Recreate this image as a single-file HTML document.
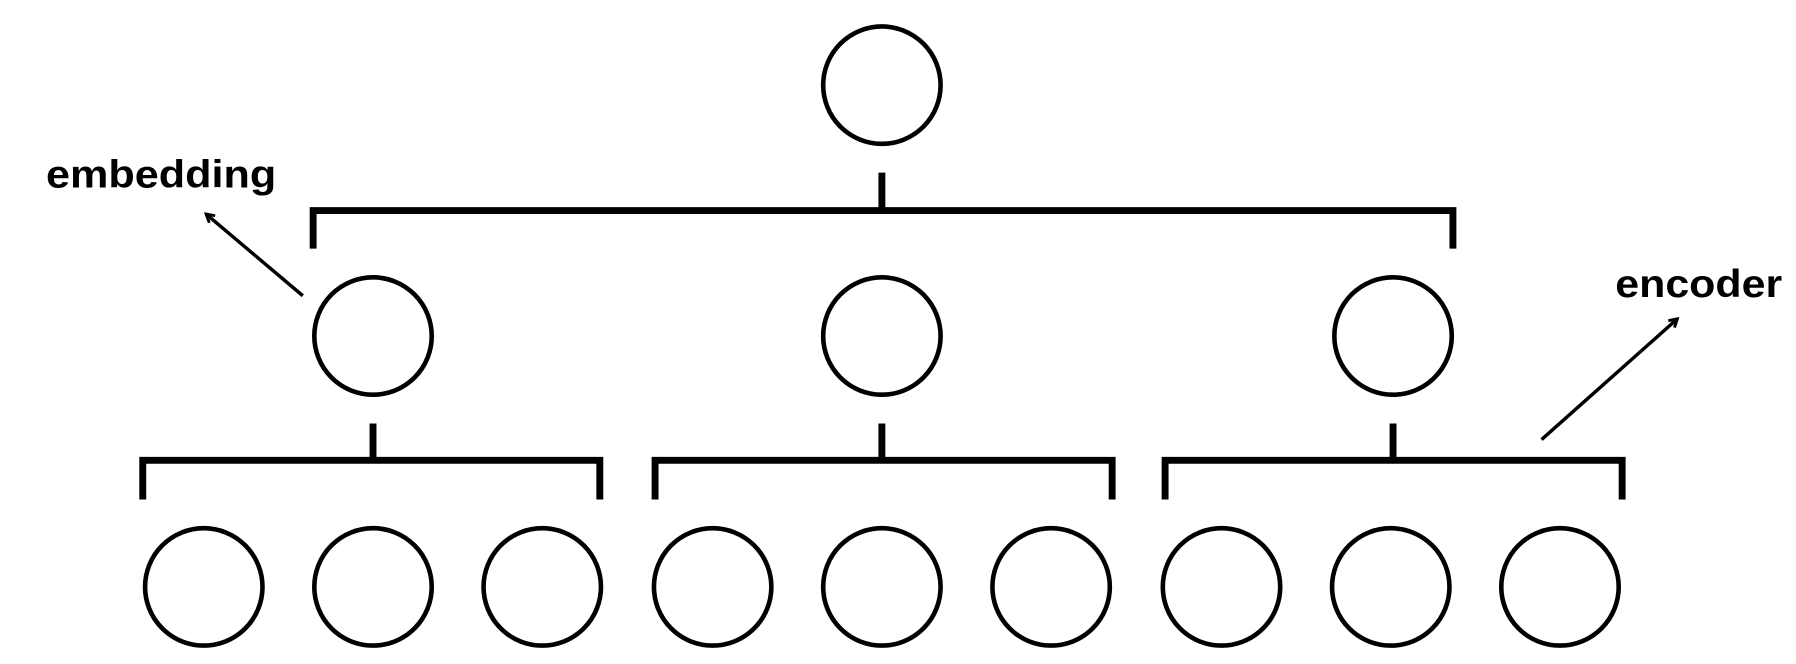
<!DOCTYPE html>
<html><head><meta charset="utf-8"><style>
html,body{margin:0;padding:0;background:#fff;width:1796px;height:664px;overflow:hidden}
svg{display:block}
text{font-family:"Liberation Sans",sans-serif;font-weight:bold;fill:#000}
</style></head><body>
<svg id="d" width="1796" height="664" viewBox="0 0 1560 577" preserveAspectRatio="none" xmlns="http://www.w3.org/2000/svg">
<defs><marker id="ah" markerWidth="10" markerHeight="10" refX="8" refY="5" orient="auto" markerUnits="userSpaceOnUse"><path d="M1,1 L8,5 L1,9" fill="none" stroke="#000" stroke-width="2.5"/></marker></defs>
<text x="40" y="163" font-size="34" textLength="200" lengthAdjust="spacingAndGlyphs">embedding</text>
<line x1="263" y1="257" x2="179" y2="186" stroke="#000" stroke-width="3" marker-end="url(#ah)"/>
<text x="1403" y="258" font-size="34" textLength="145" lengthAdjust="spacingAndGlyphs">encoder</text>
<line x1="1339" y1="382" x2="1457" y2="277" stroke="#000" stroke-width="3" marker-end="url(#ah)"/>
</svg>
<script>
const svg=document.getElementById('d');
const NS='http://www.w3.org/2000/svg';
const rootX=[766];
const midX=[324,766,1210];
const leafX=[177,324,471,619,766,913,1061,1208,1355];
const R=51;
function circ(x,y,name){
  const c=document.createElementNS(NS,'circle');
  c.setAttribute('cx',x);c.setAttribute('cy',y);c.setAttribute('r',R);
  c.setAttribute('fill','#fff');c.setAttribute('stroke','#000');c.setAttribute('stroke-width','4');
  
  
  svg.appendChild(c);
}
function bracket(cx,l,r,yTop,yBar,yEnd,name){
  const p=document.createElementNS(NS,'path');
  p.setAttribute('d',`M${cx},${yTop} L${cx},${yBar} M${l},${yEnd} L${l},${yBar} L${r},${yBar} L${r},${yEnd}`);
  p.setAttribute('fill','none');p.setAttribute('stroke','#000');p.setAttribute('stroke-width','6');
  p.setAttribute('stroke-linejoin','miter');
  
  
  svg.appendChild(p);
}
rootX.forEach(x=>circ(x,74,'root-node'));
midX.forEach((x,i)=>circ(x,292,'mid-node-'+(i+1)));
leafX.forEach((x,i)=>circ(x,510,'leaf-node-'+(i+1)));
bracket(766,272,1262,150,183,216,'root-bracket');
const mb=[[124,521],[569,966],[1012,1409]];
midX.forEach((x,i)=>bracket(x,mb[i][0],mb[i][1],368,400,434,'mid-bracket-'+(i+1)));
</script>
</body></html>
